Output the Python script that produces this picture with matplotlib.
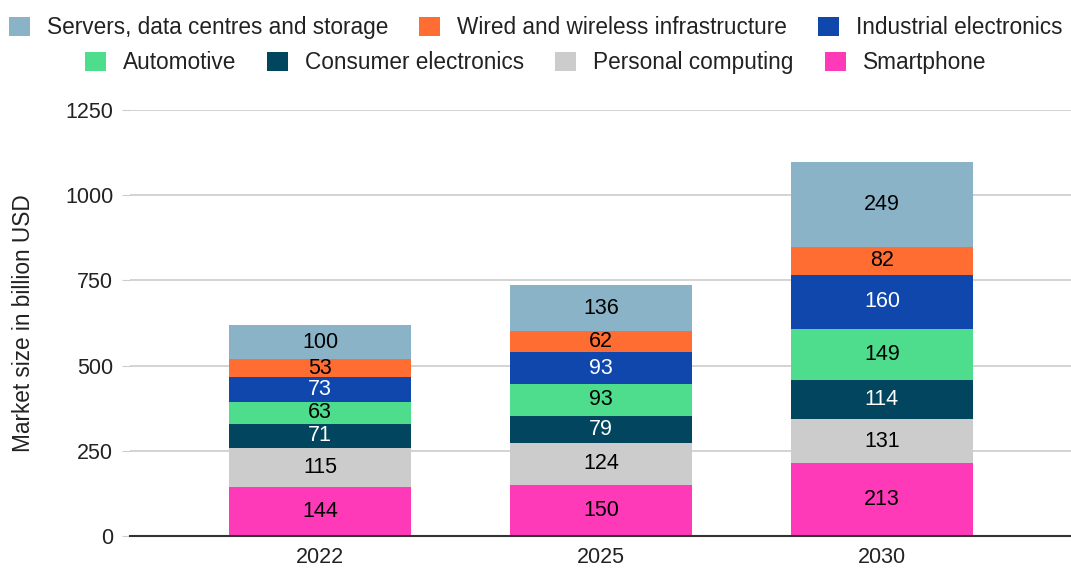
import matplotlib.pyplot as plt
from matplotlib.patches import Patch
import numpy as np

plt.rcParams['font.family'] = ['Liberation Sans', 'DejaVu Sans']

# Data
years = ['2022', '2025', '2030']
segments = ['Smartphone', 'Personal computing', 'Consumer electronics', 'Automotive',
            'Industrial electronics', 'Wired and wireless infrastructure',
            'Servers, data centres and storage']
smartphone = [144, 150, 213]
personal = [115, 124, 131]
consumer = [71, 79, 114]
automotive = [63, 93, 149]
industrial = [73, 93, 160]
wired = [53, 62, 82]
servers = [100, 136, 249]
values = [smartphone, personal, consumer, automotive, industrial, wired, servers]
colors = ['#ff3ab9', '#cccccc', '#02455f', '#4ddd8c', '#1047ad', '#ff6d33', '#8ab3c7']
label_colors = ['black', 'black', 'white', 'black', 'white', 'black', 'black']

fig = plt.figure(figsize=(10.71, 5.70), dpi=100)
ax = fig.add_axes([130 / 1071, 34 / 570, 941 / 1071, 426 / 570])

x = np.arange(len(years))
bottom = np.zeros(len(years))
for vals, col, lc in zip(values, colors, label_colors):
    vals = np.array(vals)
    ax.bar(x, vals, 0.65, bottom=bottom, color=col, zorder=3)
    for xi, b, v in zip(x, bottom, vals):
        ax.text(xi, b + v / 2, str(v), ha='center', va='center', fontsize=15.5,
                color=lc, zorder=4)
    bottom += vals

ax.set_xlim(-0.676, 2.673)
ax.set_ylim(0, 1250)
ax.set_yticks([0, 250, 500, 750, 1000, 1250])
ax.set_xticks(x)
ax.set_xticklabels(years)
ax.grid(axis='y', color='#cccccc', linewidth=1.2, zorder=0)
for s in ['top', 'right', 'left']:
    ax.spines[s].set_visible(False)
ax.spines['bottom'].set_color('#333333')
ax.spines['bottom'].set_linewidth(1.5)
ax.spines['bottom'].set_zorder(5)
ax.tick_params(axis='y', length=6, color='#cccccc', labelsize=15.5, labelcolor='#222222', pad=6)
ax.tick_params(axis='x', length=0, labelsize=15.5, labelcolor='#222222', pad=8)
ax.set_ylabel('Market size in billion USD', fontsize=16.3, color='#222222', labelpad=22)

# Legend in two centred rows
row1 = [6, 5, 4]
row2 = [3, 2, 1, 0]
for idx, yy in [(row1, 1.007), (row2, 0.946)]:
    handles = [Patch(facecolor=colors[i], edgecolor='none') for i in idx]
    labels = [segments[i] for i in idx]
    fig.legend(handles, labels, loc='upper center', bbox_to_anchor=(0.5, yy),
               ncol=len(idx), frameon=False, fontsize=16.3, handlelength=0.93,
               handleheight=0.93, handletextpad=0.75, columnspacing=1.37,
               labelcolor='#222222')

fig.savefig('out.png', dpi=100)
